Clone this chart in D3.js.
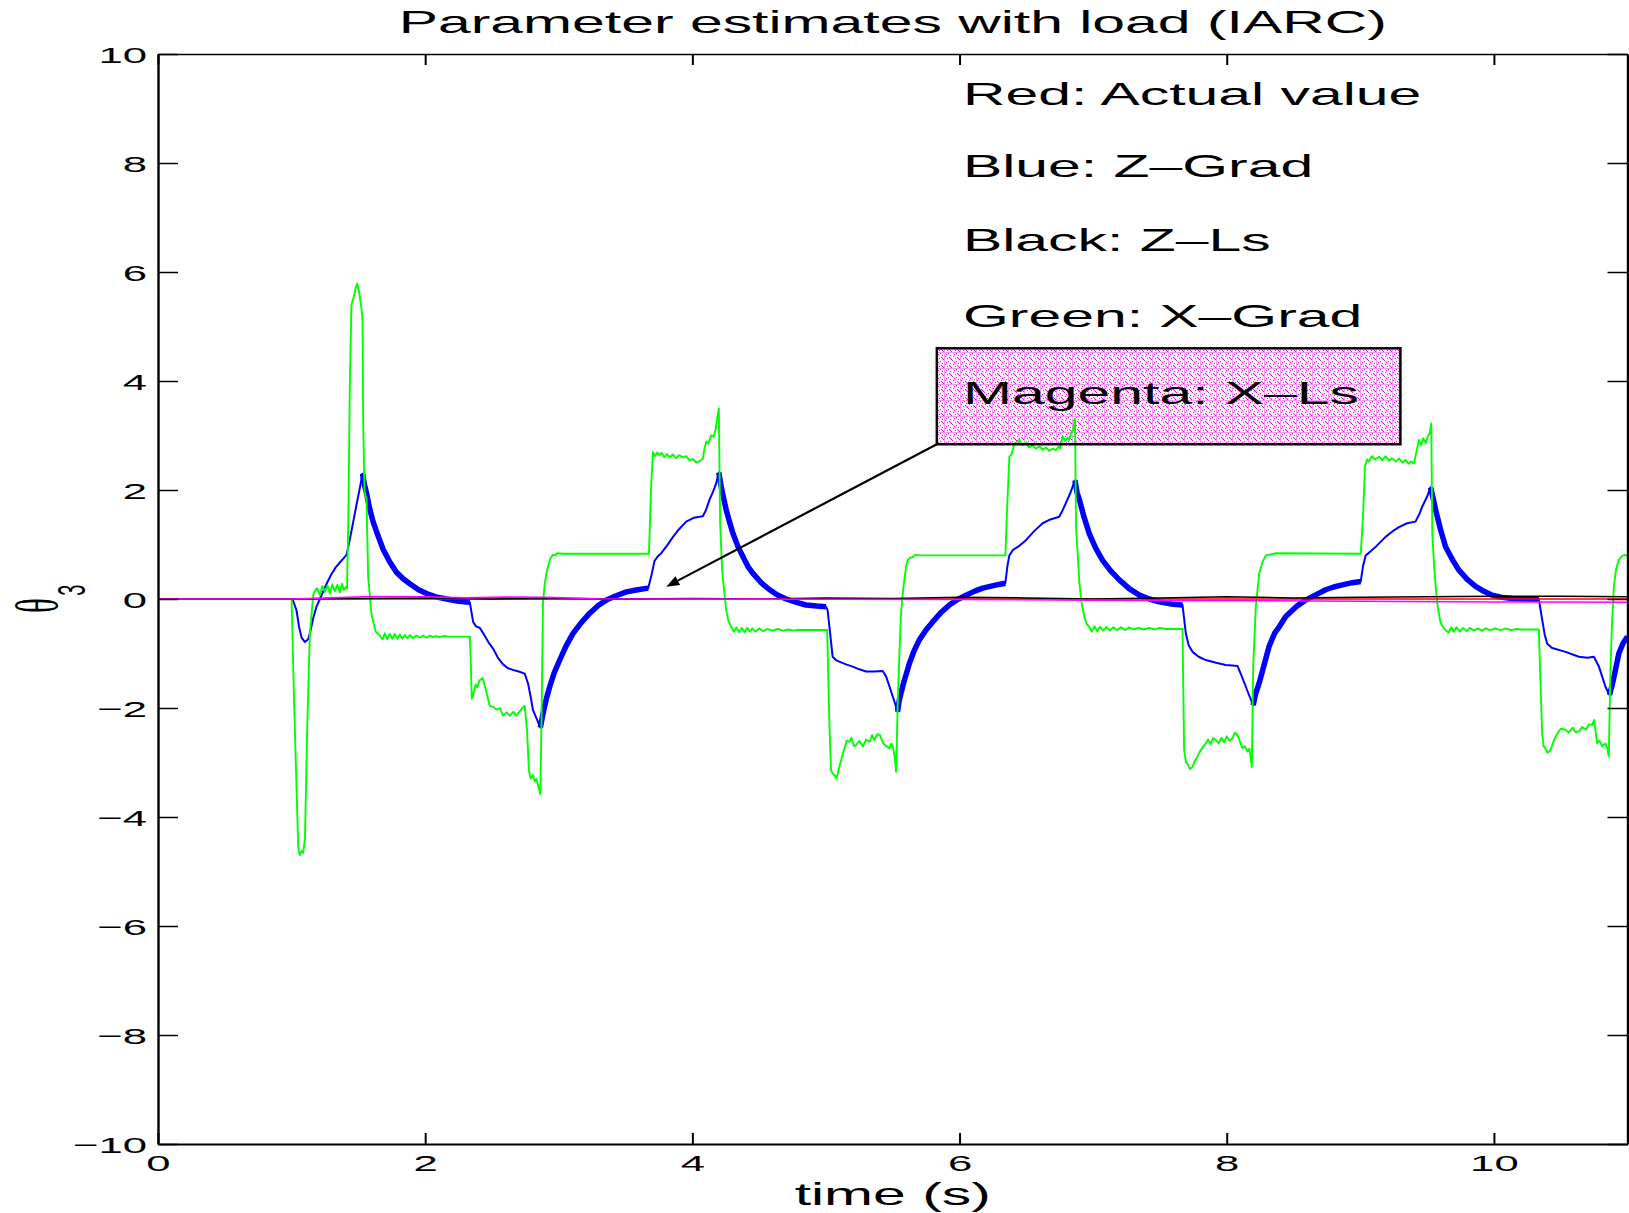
<!DOCTYPE html>
<html>
<head>
<meta charset="utf-8">
<script src="https://cdn.jsdelivr.net/npm/d3@7"></script>
<style>
  html, body { margin: 0; padding: 0; background: #fff; }
  svg { display: block; }
  text { font-family: "Liberation Sans", Arial, Helvetica, sans-serif; fill: #000; }
</style>
</head>
<body>
<svg id="chart" width="1629" height="1213"></svg>
<script>
// ---- data -------------------------------------------------------------
const titleText = "Parameter estimates with load (IARC)";
const xLabel = "time (s)";
const timeTicks = [0, 2, 4, 6, 8, 10];
const valueTicks = [-10, -8, -6, -4, -2, 0, 2, 4, 6, 8, 10];
const legendLines = ["Red: Actual value", "Blue: Z–Grad", "Black: Z–Ls", "Green: X–Grad"];
const boxedLabel = "Magenta: X–Ls";

// actual value of theta_3
const actualValue = [[0, 0], [11, 0]];

// Z-Ls estimate (black)
const zLs = [[0,0],[1.0,0],[1.5,0.01],[2.0,0.02],[2.5,0.0],[3.0,0.01],[3.5,0.0],[4.0,0.01],[4.5,0.0],
  [5.0,0.02],[5.5,0.01],[6.0,0.03],[6.5,0.02],[7.0,0.0],[7.5,0.02],[8.0,0.04],[8.5,0.02],[9.0,0.03],
  [9.5,0.04],[10.0,0.05],[10.5,0.05],[11,0.04]];

// X-Ls estimate (magenta)
const xLs = [[0,0],[1.0,0],[1.3,0.02],[1.6,0.045],[2.0,0.04],[2.3,0.02],[2.6,0.035],[2.9,0.03],[3.3,0.005],
  [4,0],[5,-0.005],[6,-0.01],[7,-0.02],[8,-0.03],[9,-0.04],[10,-0.055],[11,-0.06]];

// Z-Grad estimate (blue)
const zGrad = [[0,0],[1.007,0],[1.037,-0.21],[1.055,-0.5],[1.075,-0.71],[1.1,-0.79],[1.124,-0.74],[1.14,-0.6],
  [1.162,-0.35],[1.185,-0.15],[1.212,0],[1.24,0.16],[1.262,0.28],[1.299,0.46],[1.33,0.58],[1.361,0.67],
  [1.39,0.75],[1.411,0.81],[1.435,1.08],[1.461,1.41],[1.49,1.78],[1.511,2.04],[1.531,2.30],
  [1.545,2.1],[1.561,1.94],[1.585,1.65],[1.611,1.41],[1.65,1.14],[1.686,0.91],[1.735,0.68],[1.785,0.49],
  [1.835,0.37],[1.885,0.28],[1.95,0.17],[2.01,0.1],[2.08,0.04],[2.159,0],[2.25,-0.04],[2.334,-0.06],
  [2.359,-0.42],[2.38,-0.5],[2.409,-0.53],[2.44,-0.65],[2.475,-0.8],[2.508,-0.91],[2.545,-1.08],[2.583,-1.2],
  [2.62,-1.27],[2.657,-1.30],[2.7,-1.33],[2.745,-1.37],[2.77,-1.55],[2.79,-1.8],[2.807,-2.04],[2.835,-2.2],
  [2.862,-2.36],
  [2.882,-2.1],[2.905,-1.85],[2.932,-1.61],[2.965,-1.36],[3.007,-1.12],[3.055,-0.86],[3.107,-0.63],
  [3.17,-0.43],[3.232,-0.26],[3.295,-0.12],[3.356,-0.02],[3.43,0.06],[3.506,0.13],[3.59,0.17],[3.67,0.2],
  [3.695,0.45],[3.717,0.7],[3.74,0.78],[3.767,0.84],[3.81,0.98],[3.855,1.14],[3.9,1.28],[3.954,1.42],
  [4.01,1.49],[4.078,1.52],[4.1,1.62],[4.128,1.82],[4.155,1.97],[4.178,2.12],[4.198,2.32],
  [4.216,2.06],[4.235,1.84],[4.254,1.63],[4.28,1.4],[4.304,1.2],[4.34,0.97],[4.378,0.78],[4.415,0.6],
  [4.453,0.47],[4.515,0.3],[4.578,0.17],[4.64,0.07],[4.702,0.0],[4.78,-0.06],[4.851,-0.11],[4.93,-0.13],
  [5.0,-0.14],
  [5.012,-0.2],[5.03,-0.6],[5.05,-1.06],[5.075,-1.12],[5.1,-1.15],[5.15,-1.2],[5.2,-1.24],[5.25,-1.29],
  [5.3,-1.33],[5.36,-1.33],[5.425,-1.32],[5.45,-1.42],[5.475,-1.6],[5.5,-1.79],[5.52,-1.94],[5.536,-2.07],
  [5.549,-1.85],[5.58,-1.55],[5.625,-1.18],[5.66,-0.95],[5.699,-0.75],[5.749,-0.57],[5.799,-0.42],
  [5.86,-0.25],[5.924,-0.11],[5.985,-0.01],[6.049,0.07],[6.11,0.14],[6.173,0.20],[6.26,0.25],[6.343,0.29],
  [6.358,0.6],[6.373,0.8],[6.4,0.9],[6.45,0.98],[6.497,1.08],[6.56,1.25],[6.622,1.39],[6.68,1.46],
  [6.746,1.51],[6.77,1.62],[6.796,1.76],[6.83,1.95],[6.864,2.18],
  [6.88,1.95],[6.897,1.82],[6.93,1.52],[6.971,1.2],[7.02,0.93],[7.071,0.71],[7.13,0.52],[7.196,0.35],
  [7.27,0.19],[7.346,0.07],[7.42,0.0],[7.495,-0.05],[7.58,-0.09],[7.669,-0.11],
  [7.694,-0.63],[7.715,-0.85],[7.744,-0.97],[7.79,-1.06],[7.843,-1.12],[7.92,-1.17],[7.993,-1.21],
  [8.04,-1.22],[8.081,-1.23],[8.11,-1.4],[8.143,-1.61],[8.17,-1.78],[8.198,-1.95],
  [8.215,-1.75],[8.242,-1.55],[8.27,-1.3],[8.317,-0.87],[8.36,-0.62],[8.393,-0.51],[8.442,-0.32],
  [8.52,-0.14],[8.591,-0.02],[8.67,0.08],[8.741,0.17],[8.8,0.22],[8.866,0.26],[8.94,0.3],[9.003,0.32],
  [9.02,0.6],[9.04,0.8],[9.07,0.86],[9.12,0.97],[9.189,1.14],[9.24,1.24],[9.289,1.32],[9.35,1.39],
  [9.413,1.42],[9.44,1.55],[9.463,1.69],[9.5,1.88],[9.526,2.05],
  [9.545,1.85],[9.564,1.63],[9.6,1.28],[9.638,0.96],[9.69,0.72],[9.738,0.53],[9.8,0.36],[9.863,0.23],
  [9.925,0.14],[9.987,0.07],[10.06,0.03],[10.137,0.01],[10.24,0.0],[10.337,-0.01],
  [10.362,-0.39],[10.38,-0.65],[10.399,-0.82],[10.436,-0.9],[10.536,-0.97],[10.636,-1.06],[10.7,-1.08],
  [10.748,-1.06],[10.786,-1.24],[10.81,-1.42],[10.835,-1.61],[10.865,-1.76],
  [10.885,-1.58],[10.91,-1.3],[10.935,-1.0],[10.965,-0.82],[11.0,-0.69]];

// stretches where the Z-Grad estimate chatters and reads as a heavy band
const zGradChatterSpans = [[1.531,2.334],[2.862,3.67],[4.198,5.0],[5.536,6.343],
  [6.864,7.669],[8.198,9.003],[9.526,10.337],[10.865,11]];

// X-Grad estimate (green)
const xGrad = [[0,0],[1.0,0],[1.02,-2.0],[1.05,-4.57],[1.062,-4.70],[1.075,-4.62],[1.087,-4.66],[1.10,-4.4],
  [1.117,-2.35],[1.137,-0.63],[1.162,0.07],[1.175,0.15],[1.19,0.2],[1.212,0.07],[1.23,0.24],[1.249,0.13],
  [1.268,0.25],[1.286,0.1],[1.305,0.27],[1.324,0.14],[1.343,0.26],[1.361,0.12],[1.378,0.28],[1.391,0.16],
  [1.405,0.22],[1.415,0.2],
  [1.425,1.5],[1.436,3.93],[1.448,5.4],[1.466,5.55],[1.481,5.72],[1.491,5.79],[1.506,5.62],[1.523,5.33],
  [1.531,5.12],[1.536,3.23],[1.546,1.97],[1.561,1.83],[1.573,0.42],[1.598,-0.28],[1.63,-0.6],[1.66,-0.67],
  [1.68,-0.74],[1.698,-0.63],[1.717,-0.74],[1.735,-0.64],[1.754,-0.73],[1.773,-0.64],[1.791,-0.73],
  [1.81,-0.65],[1.829,-0.73],[1.847,-0.66],[1.866,-0.72],[1.885,-0.66],[1.91,-0.72],[1.935,-0.67],
  [1.96,-0.71],[1.985,-0.67],[2.01,-0.71],[2.035,-0.67],[2.06,-0.7],[2.084,-0.68],[2.11,-0.7],[2.134,-0.68],
  [2.184,-0.69],[2.334,-0.69],
  [2.342,-1.2],[2.349,-1.83],[2.36,-1.75],[2.378,-1.57],[2.39,-1.62],[2.405,-1.5],[2.43,-1.45],[2.45,-1.63],
  [2.483,-1.96],[2.51,-1.98],[2.533,-2.03],[2.56,-2.0],[2.583,-2.14],[2.61,-2.08],[2.633,-2.14],[2.66,-2.07],
  [2.683,-2.14],[2.72,-2.02],[2.745,-1.96],[2.762,-2.39],[2.777,-3.16],[2.79,-3.3],[2.807,-3.23],[2.82,-3.35],
  [2.832,-3.3],[2.845,-3.42],[2.862,-3.58],[2.87,-2.39],[2.882,-0.07],[2.895,0.28],[2.91,0.5],[2.927,0.66],
  [2.94,0.76],[2.957,0.81],[2.975,0.8],[2.985,0.84],[3.032,0.83],[3.675,0.83],
  [3.69,2.0],[3.705,2.70],[3.72,2.62],[3.737,2.69],[3.754,2.64],[3.77,2.68],[3.79,2.6],[3.81,2.66],[3.83,2.6],
  [3.854,2.65],[3.88,2.58],[3.9,2.64],[3.93,2.6],[3.954,2.62],[3.98,2.54],[4.004,2.57],[4.03,2.5],
  [4.054,2.53],[4.079,2.58],[4.09,2.75],[4.104,2.89],[4.12,2.85],[4.14,3.0],[4.16,2.98],[4.173,3.10],
  [4.185,3.3],[4.198,3.50],
  [4.208,1.39],[4.223,0.53],[4.24,0.1],[4.253,-0.2],[4.27,-0.4],[4.291,-0.51],[4.31,-0.6],
  [4.33,-0.52],[4.35,-0.61],[4.37,-0.53],[4.39,-0.61],[4.41,-0.53],[4.43,-0.6],[4.45,-0.54],[4.47,-0.6],
  [4.5,-0.54],[4.53,-0.59],[4.56,-0.55],[4.6,-0.58],[4.64,-0.55],[4.68,-0.58],[4.72,-0.56],[4.76,-0.58],
  [4.78,-0.57],[5.009,-0.57],
  [5.027,-2.4],[5.038,-3.14],[5.05,-3.2],[5.063,-3.23],[5.08,-3.29],[5.1,-3.08],[5.12,-2.9],[5.139,-2.74],
  [5.155,-2.6],[5.176,-2.62],[5.19,-2.55],[5.21,-2.7],[5.226,-2.68],[5.25,-2.6],[5.276,-2.71],[5.3,-2.58],
  [5.326,-2.62],[5.345,-2.5],[5.363,-2.59],[5.385,-2.48],[5.405,-2.5],[5.42,-2.6],[5.438,-2.68],
  [5.455,-2.7],[5.475,-2.74],[5.49,-2.65],[5.5,-2.71],[5.515,-2.9],[5.525,-3.17],[5.538,-1.85],[5.55,-1.0],
  [5.562,-0.26],[5.58,0.22],[5.6,0.6],[5.612,0.71],[5.63,0.76],[5.65,0.77],[5.67,0.81],[5.70,0.80],
  [6.343,0.80],
  [6.355,1.6],[6.373,2.61],[6.39,2.66],[6.41,2.85],[6.447,2.92],[6.47,2.82],[6.5,2.87],[6.52,2.78],
  [6.547,2.82],[6.57,2.76],[6.6,2.8],[6.62,2.74],[6.647,2.78],[6.67,2.72],[6.7,2.76],[6.722,2.73],
  [6.74,2.8],[6.755,2.76],[6.771,2.98],[6.79,2.9],[6.81,2.96],[6.821,2.92],[6.835,3.04],[6.85,3.1],
  [6.864,3.31],
  [6.872,1.33],[6.885,0.8],[6.897,0.29],[6.915,-0.1],[6.934,-0.32],[6.95,-0.45],[6.971,-0.51],
  [6.99,-0.6],[7.01,-0.5],[7.03,-0.59],[7.05,-0.51],[7.075,-0.58],[7.1,-0.51],[7.125,-0.58],[7.15,-0.52],
  [7.18,-0.57],[7.21,-0.52],[7.24,-0.57],[7.27,-0.52],[7.3,-0.56],[7.34,-0.53],[7.38,-0.56],[7.42,-0.53],
  [7.46,-0.56],[7.5,-0.53],[7.544,-0.55],[7.669,-0.55],
  [7.681,-2.77],[7.695,-3.0],[7.706,-3.02],[7.725,-3.12],[7.744,-3.08],[7.76,-2.98],[7.781,-2.89],
  [7.8,-2.8],[7.82,-2.72],[7.843,-2.65],[7.86,-2.58],[7.88,-2.66],[7.9,-2.55],[7.918,-2.59],[7.94,-2.65],
  [7.96,-2.55],[7.98,-2.63],[8.0,-2.52],[8.02,-2.6],[8.043,-2.56],[8.06,-2.45],[8.081,-2.5],[8.1,-2.62],
  [8.118,-2.74],[8.135,-2.7],[8.156,-2.8],[8.17,-2.75],[8.188,-3.08],[8.198,-1.24],[8.218,-0.14],
  [8.243,0.47],[8.268,0.68],[8.293,0.8],[8.33,0.82],[8.368,0.84],[9.003,0.83],
  [9.02,1.5],[9.035,2.43],[9.05,2.56],[9.065,2.52],[9.085,2.62],[9.11,2.56],[9.14,2.61],[9.165,2.55],
  [9.19,2.62],[9.215,2.54],[9.24,2.58],[9.265,2.52],[9.29,2.58],[9.315,2.5],[9.339,2.55],[9.36,2.48],
  [9.38,2.52],[9.402,2.49],[9.42,2.7],[9.439,2.92],[9.455,2.82],[9.47,2.95],[9.489,2.86],[9.505,2.98],
  [9.52,3.05],[9.531,3.22],
  [9.539,1.2],[9.55,0.7],[9.564,0.23],[9.58,-0.15],[9.601,-0.44],[9.62,-0.52],[9.638,-0.57],
  [9.66,-0.62],[9.68,-0.52],[9.7,-0.6],[9.72,-0.52],[9.745,-0.6],[9.77,-0.53],[9.795,-0.59],[9.82,-0.53],
  [9.85,-0.58],[9.88,-0.54],[9.91,-0.58],[9.94,-0.54],[9.97,-0.57],[10.01,-0.54],[10.05,-0.57],
  [10.09,-0.54],[10.13,-0.57],[10.17,-0.55],[10.211,-0.56],[10.336,-0.56],
  [10.361,-2.46],[10.372,-2.7],[10.386,-2.74],[10.4,-2.82],[10.424,-2.77],[10.44,-2.65],[10.461,-2.53],
  [10.48,-2.45],[10.5,-2.38],[10.536,-2.4],[10.56,-2.45],[10.59,-2.36],[10.61,-2.44],[10.636,-2.43],
  [10.66,-2.35],[10.69,-2.4],[10.71,-2.3],[10.736,-2.31],[10.75,-2.22],[10.773,-2.65],[10.79,-2.6],
  [10.81,-2.7],[10.835,-2.65],[10.85,-2.75],[10.86,-2.89],[10.873,-1.24],[10.885,-0.4],[10.898,0.23],
  [10.915,0.55],[10.935,0.72],[10.96,0.79],[10.985,0.81],[11.0,0.78]];

// ---- layout -----------------------------------------------------------
const W = 1629, H = 1213;
const plot = { left: 158, right: 1627.5, top: 54, bottom: 1144 };
const SX = 1.9;           // horizontal stretch of every glyph
const FONT_BIG = 31, FONT_TICK = 23;

const svg = d3.select("#chart");
const x = d3.scaleLinear().domain([0, 11]).range([plot.left, plot.right]);
const y = d3.scaleLinear().domain([-10, 10]).range([plot.bottom, plot.top]);

const defs = svg.append("defs");
defs.append("clipPath").attr("id", "plotClip")
  .append("rect")
  .attr("x", plot.left).attr("y", plot.top)
  .attr("width", plot.right - plot.left).attr("height", plot.bottom - plot.top);

// dithered pink fill for the callout box
const pat = defs.append("pattern").attr("id", "dither")
  .attr("patternUnits", "userSpaceOnUse").attr("width", 16).attr("height", 16);
pat.append("rect").attr("width", 16).attr("height", 16).attr("fill", "#fdeefc");
const dotCells = [[0,0],[4,1],[2,2],[6,3],[1,4],[5,5],[3,6],[7,7],[6,6]];
[[0,0],[8,0],[0,8],[8,8]].forEach(([ox, oy]) => {
  dotCells.forEach(([a, b]) => pat.append("rect")
    .attr("x", ox + a).attr("y", oy + b).attr("width", 1).attr("height", 1).attr("fill", "#ff00ff"));
});
pat.append("rect").attr("x", 0).attr("y", 0).attr("width", 16).attr("height", 1).attr("fill", "#f59af3");
pat.append("rect").attr("x", 0).attr("y", 0).attr("width", 1).attr("height", 16).attr("fill", "#f59af3");

// stretched text helper
function stretchedText(parent, str, px, py, size, anchor) {
  return parent.append("text")
    .attr("transform", `translate(${px},${py}) scale(${SX},1)`)
    .attr("text-anchor", anchor || "start")
    .style("font-size", size + "px")
    .text(str);
}

// ---- callout box fill (under the curves) ------------------------------
const boxSpec = { t0: 5.83, t1: 9.30, v0: 2.84, v1: 4.60 };
svg.append("rect")
  .attr("x", x(boxSpec.t0)).attr("y", y(boxSpec.v1))
  .attr("width", x(boxSpec.t1) - x(boxSpec.t0)).attr("height", y(boxSpec.v0) - y(boxSpec.v1))
  .attr("fill", "url(#dither)");

// ---- curves -----------------------------------------------------------
const line = d3.line().x(d => x(d[0])).y(d => y(d[1]));
const curves = svg.append("g").attr("clip-path", "url(#plotClip)")
  .attr("fill", "none").attr("stroke-linejoin", "round").attr("stroke-linecap", "round");

curves.append("path").datum(zGrad).attr("d", line)
  .attr("stroke", "#0000ff").attr("stroke-width", 2);
zGradChatterSpans.forEach(([a, b]) => {
  curves.append("path").datum(zGrad.filter(d => d[0] >= a && d[0] <= b)).attr("d", line)
    .attr("stroke", "#0000ff").attr("stroke-width", 5.5).attr("stroke-linecap", "butt");
});
curves.append("path").datum(xGrad).attr("d", line)
  .attr("stroke", "#00ff00").attr("stroke-width", 1.9);
curves.append("path").datum(actualValue).attr("d", line)
  .attr("stroke", "#ff0000").attr("stroke-width", 1.5);
curves.append("path").datum(zLs).attr("d", line)
  .attr("stroke", "#000000").attr("stroke-width", 1.5);
curves.append("path").datum(xLs).attr("d", line)
  .attr("stroke", "#ff00ff").attr("stroke-width", 1.6);

// ---- axes -------------------------------------------------------------
function cleanAxis(g) {
  g.attr("font-size", null).attr("font-family", null);
}
const fmt = d3.format("d");

const axB = svg.append("g").attr("transform", `translate(0,${plot.bottom})`)
  .call(d3.axisBottom(x).tickValues(timeTicks).tickSizeInner(-11).tickSizeOuter(0).tickFormat(fmt))
  .call(cleanAxis);
axB.select(".domain").attr("stroke-width", 2.2);
axB.selectAll(".tick line").attr("stroke-width", 2);
axB.selectAll(".tick text")
  .attr("y", null).attr("dy", null)
  .attr("transform", `translate(0,27) scale(${SX},1)`)
  .attr("text-anchor", "middle").style("font-size", FONT_TICK + "px").attr("fill", "#000");

const axT = svg.append("g").attr("transform", `translate(0,${plot.top})`)
  .call(d3.axisTop(x).tickValues(timeTicks).tickSizeInner(-11).tickSizeOuter(0).tickFormat(""))
  .call(cleanAxis);
axT.select(".domain").attr("stroke-width", 1.6);
axT.selectAll(".tick line").attr("stroke-width", 2);

const axL = svg.append("g").attr("transform", `translate(${plot.left},0)`)
  .call(d3.axisLeft(y).tickValues(valueTicks).tickSizeInner(-20).tickSizeOuter(0).tickFormat(fmt))
  .call(cleanAxis);
axL.select(".domain").attr("stroke-width", 2.4);
axL.selectAll(".tick line").attr("stroke-width", 1.5);
axL.selectAll(".tick text")
  .attr("x", null).attr("dy", "0.36em")
  .attr("transform", `translate(-11,0) scale(${SX},1)`)
  .attr("text-anchor", "end").style("font-size", FONT_TICK + "px").attr("fill", "#000");

const axR = svg.append("g").attr("transform", `translate(${plot.right},0)`)
  .call(d3.axisRight(y).tickValues(valueTicks).tickSizeInner(-20).tickSizeOuter(0).tickFormat(""))
  .call(cleanAxis);
axR.select(".domain").attr("stroke-width", 2.4);
axR.selectAll(".tick line").attr("stroke-width", 1.5);

// ---- titles -----------------------------------------------------------
const midX = (plot.left + plot.right) / 2;
stretchedText(svg, titleText, midX, 32.5, FONT_BIG, "middle");
stretchedText(svg, xLabel, midX, 1204.5, FONT_BIG, "middle");

// y label: theta with subscript 3, rotated and stretched along the page width
const yLab = svg.append("text")
  .attr("transform", `translate(57,613) scale(${SX},1) rotate(-90)`);
yLab.append("tspan").style("font-family", '"Liberation Serif", "Times New Roman", serif')
  .style("font-size", FONT_BIG + "px").text("θ");
yLab.append("tspan").attr("dx", 2.5).attr("dy", 14.5).style("font-size", "20px").text("3");

// ---- legend notes -----------------------------------------------------
const noteX = 963;
const noteBaselines = [105, 177.3, 250.7, 327.3];
legendLines.forEach((s, i) => stretchedText(svg, s, noteX, noteBaselines[i], FONT_BIG, "start"));

// callout box border and label
svg.append("rect")
  .attr("x", x(boxSpec.t0)).attr("y", y(boxSpec.v1))
  .attr("width", x(boxSpec.t1) - x(boxSpec.t0)).attr("height", y(boxSpec.v0) - y(boxSpec.v1))
  .attr("fill", "none").attr("stroke", "#000").attr("stroke-width", 2.5);
stretchedText(svg, boxedLabel, noteX, 404, FONT_BIG, "start");

// arrow from the box corner to the X-Ls curve
const arrowFrom = [boxSpec.t0, boxSpec.v0];
const arrowTo = [3.805, 0.226];
const ax0 = x(arrowFrom[0]), ay0 = y(arrowFrom[1]), ax1 = x(arrowTo[0]), ay1 = y(arrowTo[1]);
const ang = Math.atan2(ay1 - ay0, ax1 - ax0);
const headLen = 13, headHalf = 5;
const bx = ax1 - headLen * Math.cos(ang), by = ay1 - headLen * Math.sin(ang);
svg.append("line").attr("x1", ax0).attr("y1", ay0).attr("x2", bx).attr("y2", by)
  .attr("stroke", "#000").attr("stroke-width", 2.2);
svg.append("path")
  .attr("d", `M${ax1},${ay1} L${bx + headHalf * Math.sin(ang)},${by - headHalf * Math.cos(ang)} L${bx - headHalf * Math.sin(ang)},${by + headHalf * Math.cos(ang)} Z`)
  .attr("fill", "#000");
</script>
</body>
</html>
